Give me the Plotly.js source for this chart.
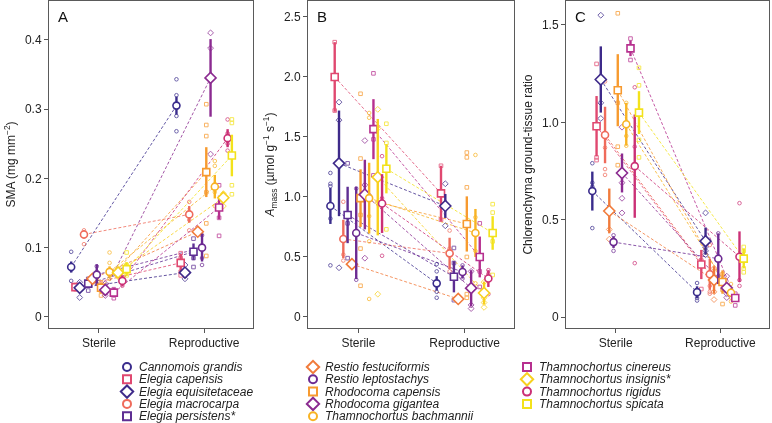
<!DOCTYPE html>
<html>
<head>
<meta charset="utf-8">
<script src="https://cdn.plot.ly/plotly-3.0.1.min.js"></script>
<style>html,body{margin:0;padding:0;background:#fff}#chart{width:772px;height:423px}</style>
</head>
<body>
<div id="chart"></div>
<script>
// ---------- DATA ----------
const species = ['Cannomois grandis','Elegia capensis','Elegia equisitetaceae','Elegia macrocarpa','Elegia persistens*',
  'Restio festuciformis','Restio leptostachys','Rhodocoma capensis','Rhodocoma gigantea','Thamnochortus bachmannii',
  'Thamnochortus cinereus','Thamnochortus insignis*','Thamnochortus rigidus','Thamnochortus spicata'];
const groups = ['Sterile','Reproductive'];

// Panel A: SMA (mg mm-2)
const smaSterileMean = [0.072,0.043,0.042,0.119,0.048,0.055,0.061,0.042,0.039,0.065,0.035,0.064,0.052,0.069];
const smaSterileErr  = [0.008,0.004,0.006,0.006,0.006,0.003,0.015,0.008,0.008,0.008,0.007,0.007,0.008,0.010];
const smaReproMean   = [0.305,0.078,0.064,0.148,0.094,0.123,0.100,0.209,0.345,0.188,0.158,0.172,0.258,0.233];
const smaReproErr    = [0.013,0.013,0.006,0.012,0.012,0.004,0.020,0.036,0.056,0.017,0.017,0.006,0.013,0.030];
const smaSterilePts = [[0.094,0.075,0.068,0.052],[0.046,0.040,0.043],[0.050,0.028,0.043],[0.125,0.105,0.122],[0.055,0.038,0.050],
  [0.057,0.052],[0.073,0.048,0.065],[0.031,0.038,0.050],[0.048,0.031,0.040],[0.093,0.078,0.060,0.055],[0.027,0.040,0.032],
  [0.058,0.070,0.062],[0.045,0.058,0.050],[0.093,0.075,0.060]];
const smaReproPts = [[0.343,0.320,0.290,0.268],[0.092,0.085,0.065,0.060],[0.075,0.055,0.066],[0.166,0.125,0.140],[0.113,0.072,0.085],
  [0.120],[0.118,0.085,0.075],[0.307,0.277,0.261,0.180,0.135,0.088],[0.410,0.388,0.235],[0.225,0.218,0.180,0.160],[0.190,0.143,0.117],
  [0.178,0.160,0.175],[0.285,0.265,0.250,0.240],[0.285,0.280,0.190,0.177]];

// Panel B: Amass (umol g-1 s-1)
const amSterileMean = [0.925,2.0,1.28,0.65,0.85,0.44,0.70,0.99,1.02,0.99,1.565,1.165,0.945,1.235];
const amSterileErr  = [0.15,0.29,0.44,0.16,0.235,0.01,0.385,0.24,0.29,0.295,0.25,0.485,0.245,0.205];
const amReproMean   = [0.28,1.03,0.925,0.53,0.335,0.15,0.375,0.775,0.24,0.70,0.50,0.20,0.32,0.70];
const amReproErr    = [0.06,0.23,0.10,0.13,0.13,0.01,0.055,0.23,0.15,0.20,0.17,0.095,0.07,0.14];
const amSterilePts = [[1.2,1.11,1.09,0.82,0.43],[2.29,1.72],[1.79,1.64,0.41],[0.96,0.52,0.47],[1.28,0.78,0.49],[0.44,0.45],
  [1.07,0.31],[1.86,1.32,0.85,0.57,0.26],[1.47,1.10,0.49],[1.70,1.66,0.84,0.63,0.15],[2.03,1.48,1.18],[1.73,1.57,0.95,0.19],
  [1.34,0.99,0.51],[1.61,1.45,0.73]];
const amReproPts = [[0.44,0.38,0.21,0.16],[1.26,0.81],[1.11,0.76],[0.72,0.57,0.38],[0.575,0.45,0.14],[0.15,0.14],
  [0.43,0.36,0.32],[1.37,1.33,1.08,0.5,0.19,0.16],[0.38,0.10,0.07],[1.35,0.83,0.55,0.28],[0.78,0.38,0.25],[0.29,0.16,0.12,0.08],
  [0.39,0.36,0.19],[0.94,0.87,0.63,0.35]];

// Panel C: Chlorenchyma ground-tissue ratio
const chSterileMean = [0.647,0.98,1.22,0.935,null,0.545,0.385,1.165,0.74,0.99,1.38,null,0.775,1.05];
const chSterileErr  = [0.10,0.155,0.17,0.145,null,0.115,0.03,0.185,0.10,0.11,0.04,null,0.265,0.11];
const chReproMean   = [0.128,0.27,0.39,0.22,null,0.19,0.30,0.18,0.15,0.125,0.098,null,0.31,0.30];
const chReproErr    = [0.03,0.075,0.07,0.08,null,0.07,0.13,0.06,0.02,0.02,0.02,null,0.13,0.05];
const chSterilePts = [[0.79,0.69,0.67,0.457],[1.30,0.82,0.806],[1.55,1.10,1.02],[1.21,0.87,0.76,0.73],[],[0.45,0.40],[0.42,0.34],
  [1.56,1.10,0.875,0.78],[0.975,0.69,0.61,0.535],[1.10,0.93,0.88],[1.43,1.32],[],[1.18,0.875,0.277],[1.28,1.19,0.91,0.82]];
const chReproPts = [[0.175,0.098,0.085],[0.29,0.144],[0.535,0.36,0.34,0.32],[0.37,0.16,0.13,0.12],[],[0.25,0.13,0.09],
  [0.43,0.21,0.18],[0.22,0.14,0.067],[0.21,0.12,0.10],[0.17,0.10,0.08],[0.12,0.10,0.06],[],[0.585,0.19,0.16],[0.36,0.34,0.25,0.23]];

// ---------- STYLE ----------
const colors = ['#3a2c8c','#e04870','#3e2a8a','#ef6b5b','#5e2e93','#f17b3b','#6c2a92','#f79a2f','#8b2a90','#f8b324',
  '#b7308f','#f8d01e','#cb3076','#f3e21b'];
const symbols = ['circle','square','diamond','circle','square','diamond','circle','square','diamond','circle',
  'square','diamond','circle','square'];
const FONT = 'Liberation Sans, Arial, Helvetica, sans-serif';
const STEP = 0.0405;

const panels = [
  {ax:'', sm:smaSterileMean, se:smaSterileErr, rm:smaReproMean, re:smaReproErr, sp:smaSterilePts, rp:smaReproPts},
  {ax:'2', sm:amSterileMean, se:amSterileErr, rm:amReproMean, re:amReproErr, sp:amSterilePts, rp:amReproPts},
  {ax:'3', sm:chSterileMean, se:chSterileErr, rm:chReproMean, re:chReproErr, sp:chSterilePts, rp:chReproPts}
];

const lineTraces = [], ptTraces = [], meanTraces = [];
panels.forEach(p => {
  const present = species.map((s,i)=>i).filter(i => p.sm[i] !== null);
  const n = present.length;
  present.forEach((i, rank) => {
    const off = (rank - (n-1)/2) * STEP;
    const xs = 1 + off, xr = 2 + off;
    const xa = 'x'+p.ax, ya = 'y'+p.ax;
    lineTraces.push({x:[xs,xr], y:[p.sm[i],p.rm[i]], xaxis:xa, yaxis:ya, mode:'lines', showlegend:false, hoverinfo:'skip',
      line:{color:colors[i], width:1, dash:'3px,2px'}, opacity:0.8});
    const px = p.sp[i].map(()=>xs).concat(p.rp[i].map(()=>xr));
    const py = p.sp[i].concat(p.rp[i]);
    ptTraces.push({x:px, y:py, xaxis:xa, yaxis:ya, mode:'markers', showlegend:false, hoverinfo:'skip', opacity:0.75,
      marker:{symbol:symbols[i]+'-open', size: symbols[i]==='diamond'?4.5:3.6, color:colors[i], line:{width:1}}});
    meanTraces.push({x:[xs,xr], y:[p.sm[i],p.rm[i]], xaxis:xa, yaxis:ya, mode:'markers', showlegend:false, name:species[i],
      error_y:{type:'data', array:[p.se[i],p.re[i]], visible:true, thickness:2.4, width:0, color:colors[i]},
      marker:{symbol:symbols[i], size: symbols[i]==='diamond'?8.5:7, color:'#ffffff', line:{color:colors[i], width:1.6}}});
  });
});

// legend (overlay axis in pixel space, bottom strip only)
const W = 772, H = 423, LEG_TOP = 350;
const colX = [127, 313, 527], rowY0 = 367, rowDY = 12.3;
const legTraces = [], legAnn = [];
species.forEach((s,i) => {
  const col = Math.floor(i/5), row = i - col*5;
  const lx = colX[col], ly = rowY0 + row*rowDY;
  legTraces.push({x:[lx], y:[ly], xaxis:'x4', yaxis:'y4', mode:'markers', showlegend:false, hoverinfo:'skip',
    marker:{symbol:symbols[i]+'-open', size: symbols[i]==='diamond'?9.5:8, color:colors[i], line:{width:2}}});
  legAnn.push({xref:'x4', yref:'y4', x:lx+10, y:ly, xanchor:'left', yanchor:'middle', showarrow:false,
    text:'<i>'+s+'</i>', font:{family:FONT, size:12, color:'#222'}});
});

const yDom = [1-328/H, 1-1/H];
function xAxis(dom){
  return {domain:dom, range:[0.526,2.464], tickvals:[1,2], ticktext:groups, ticks:'outside', ticklen:4, tickcolor:'#555',
    showline:true, mirror:true, linecolor:'#5a5a5a', linewidth:1, showgrid:false, zeroline:false,
    tickfont:{family:FONT, size:12, color:'#222'}, fixedrange:true};
}
function yAxis(range, tv, tt, title, anchor){
  return {domain:yDom, range:range, tickvals:tv, ticktext:tt, ticks:'outside', ticklen:4, tickcolor:'#555',
    showline:true, mirror:true, linecolor:'#5a5a5a', linewidth:1, showgrid:false, zeroline:false, anchor:anchor,
    tickfont:{family:FONT, size:12, color:'#222'}, title:{text:title, font:{family:FONT, size:12, color:'#222'}, standoff:6}};
}

const layout = {
  width:W, height:H, margin:{l:0,r:0,t:0,b:0}, paper_bgcolor:'#fff', plot_bgcolor:'rgba(0,0,0,0)', showlegend:false,
  xaxis: xAxis([49/W, 253/W]),
  xaxis2: Object.assign(xAxis([308/W, 514/W]), {anchor:'y2'}),
  xaxis3: Object.assign(xAxis([566/W, 769/W]), {anchor:'y3'}),
  yaxis: yAxis([-0.016,0.456],[0,0.1,0.2,0.3,0.4],['0','0.1','0.2','0.3','0.4'],'SMA (mg mm<sup>−2</sup>)','x'),
  yaxis2: yAxis([-0.092,2.633],[0,0.5,1,1.5,2,2.5],['0','0.5','1.0','1.5','2.0','2.5'],'<i>A</i><sub>mass</sub> (µmol g<sup>−1</sup> s<sup>−1</sup>)','x2'),
  yaxis3: yAxis([-0.056,1.623],[0,0.5,1,1.5],['0','0.5','1.0','1.5'],'Chlorenchyma ground-tissue ratio','x3'),
  xaxis4: {domain:[0,1], range:[0,W], visible:false, fixedrange:true, anchor:'y4'},
  yaxis4: {domain:[0,(H-LEG_TOP)/H], range:[H,LEG_TOP], visible:false, fixedrange:true, anchor:'x4'},
  annotations: [
    {xref:'x domain', yref:'y domain', x:0.035, y:0.985, xanchor:'left', yanchor:'top', text:'A', showarrow:false, font:{family:FONT,size:15,color:'#111'}},
    {xref:'x2 domain', yref:'y2 domain', x:0.035, y:0.985, xanchor:'left', yanchor:'top', text:'B', showarrow:false, font:{family:FONT,size:15,color:'#111'}},
    {xref:'x3 domain', yref:'y3 domain', x:0.035, y:0.985, xanchor:'left', yanchor:'top', text:'C', showarrow:false, font:{family:FONT,size:15,color:'#111'}}
  ].concat(legAnn)
};

Plotly.newPlot('chart', lineTraces.concat(ptTraces, meanTraces, legTraces), layout, {displayModeBar:false, staticPlot:true});
</script>
</body>
</html>
